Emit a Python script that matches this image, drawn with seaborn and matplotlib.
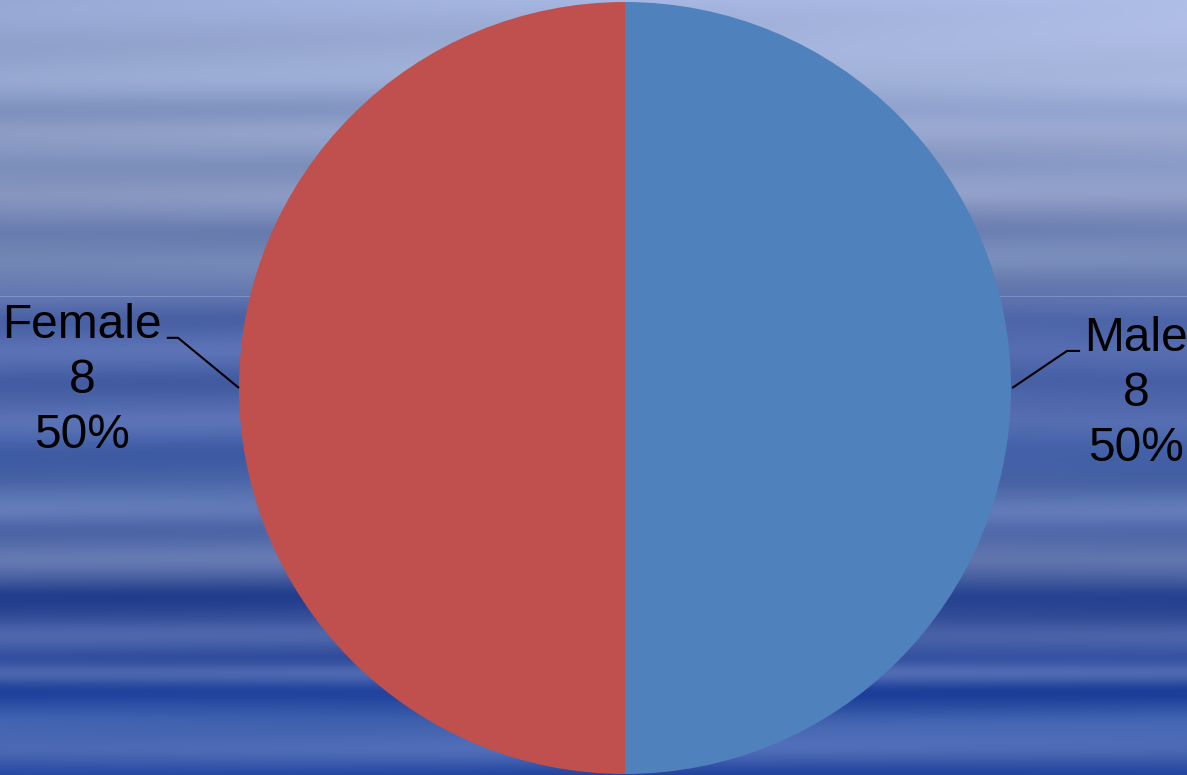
import numpy as np
import matplotlib
matplotlib.use("Agg")
import matplotlib.pyplot as plt
import seaborn as sns

# Data
categories = ["Male", "Female"]
counts = [8, 8]
slice_colors = ["#4F81BD", "#C0504D"]

sns.set_theme(style="white")
plt.rcParams["font.family"] = ["Liberation Sans", "DejaVu Sans"]

W, H = 1187, 775
fig = plt.figure(figsize=(W / 100, H / 100), dpi=100)

# Water-like streaked blue backdrop
rows = np.array([
    0, 40, 80, 110, 130, 165, 195, 230, 260, 280, 298, 320, 350, 380,
    420, 450, 480, 510, 530, 560, 580, 595, 615, 635, 660, 672, 690, 720, 750, 775])
cols = np.array([
    (150, 168, 212), (146, 163, 205), (150, 168, 208), (125, 145, 190),
    (145, 160, 200), (120, 140, 185), (140, 155, 195), (100, 120, 172),
    (120, 140, 186), (105, 125, 176),
    (95, 115, 175), (72, 97, 165), (92, 116, 182), (66, 90, 160),
    (92, 116, 182), (62, 92, 165), (72, 100, 166), (102, 126, 186),
    (76, 100, 166), (104, 124, 180), (66, 90, 156), (30, 60, 140),
    (50, 75, 152), (82, 106, 172), (42, 72, 156), (95, 120, 186),
    (22, 56, 150), (66, 100, 176), (82, 110, 186), (32, 66, 156)], dtype=float)
yy = np.arange(H)
base = np.stack([np.interp(yy, rows, cols[:, k]) for k in range(3)], axis=1)
# soften the streaks
k = np.exp(-0.5 * (np.arange(-15, 16) / 5.0) ** 2)
k /= k.sum()
pad = np.pad(base, ((15, 15), (0, 0)), mode="edge")
base = np.stack([np.convolve(pad[:, c], k, mode="valid") for c in range(3)], axis=1)
# faint seam line
base[296] = base[296] * 0.6 + np.array([170, 185, 225]) * 0.4

xx = np.arange(W) / W
img = np.repeat(base[:, None, :], W, axis=1)
lift = 28 * xx[None, :] * np.clip(1 - yy[:, None] / 300, 0, 1)
img = img + lift[:, :, None] * np.array([1.0, 0.9, 0.8])
ripple = 3 * np.sin(yy[:, None] / 11.0 + xx[None, :] * 5.0)
img = img + ripple[:, :, None]
img = np.clip(img, 0, 255) / 255.0

bg = fig.add_axes([0, 0, 1, 1])
bg.imshow(img, aspect="auto", interpolation="bilinear")
bg.set_axis_off()

# Pie chart
R = 386
cx, cy = 625, 387
ax = fig.add_axes([(cx - R) / W, (cy - R) / H, 2 * R / W, 2 * R / H])
ax.pie(counts, colors=slice_colors, startangle=90, counterclock=False,
       radius=1.0, wedgeprops=dict(linewidth=0))
ax.set_xlim(-1, 1)
ax.set_ylim(-1, 1)
ax.set_aspect("equal")
ax.set_axis_off()

total = sum(counts)
labels = [f"{c}\n{n}\n{n / total:.0%}" for c, n in zip(categories, counts)]

# Label positions and leader lines in data units
text_pos = [(1.325, -0.015), (-1.407, 0.02)]
leaders = [
    [(1.003, 0.0), (1.145, 0.096), (1.179, 0.096)],
    [(-1.0, 0.0), (-1.158, 0.13), (-1.187, 0.13)],
]
for lab, (tx, ty), pts in zip(labels, text_pos, leaders):
    ax.text(tx, ty, lab, ha="center", va="center", multialignment="center",
            fontsize=34.5, color="black", linespacing=1.28, clip_on=False)
    xs, ys = zip(*pts)
    ax.plot(xs, ys, color="black", linewidth=1.5, clip_on=False,
            solid_capstyle="butt")

fig.savefig("out.png", dpi=100)
